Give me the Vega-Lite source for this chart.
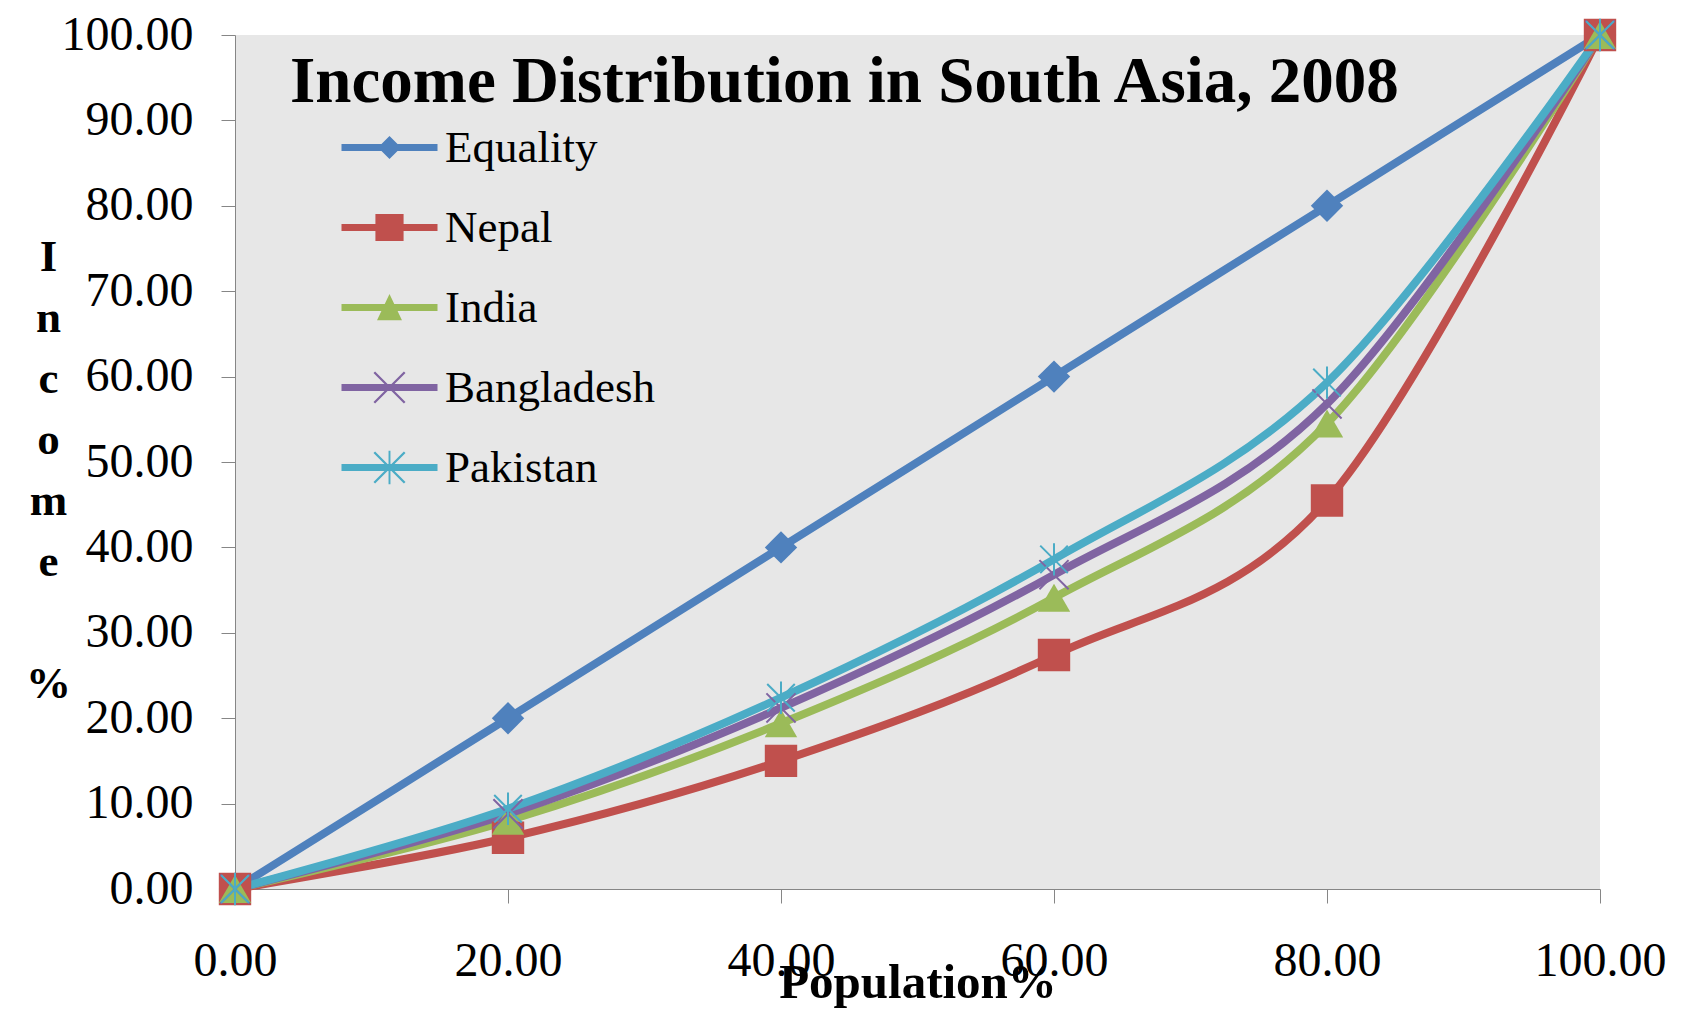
{
  "$schema": "https://vega.github.io/schema/vega-lite/v6.json",
  "width": 1365,
  "height": 854,
  "autosize": {"type": "none"},
  "padding": {"left": 235, "top": 35, "right": 95, "bottom": 125},
  "background": "white",
  "config": {
    "font": "Liberation Serif",
    "view": {"fill": "#e7e7e7", "stroke": null}
  },
  "title": {
    "text": "Income Distribution in South Asia, 2008",
    "anchor": "start",
    "frame": "group",
    "offset": -67,
    "dy": 89,
    "baseline": "alphabetic",
    "fontSize": 65,
    "fontWeight": "bold",
    "color": "black",
    "dx": 55
  },
  "data": {
    "values": [
      {"country": "Equality", "pop": 0, "income": 0},
      {"country": "Equality", "pop": 20, "income": 20},
      {"country": "Equality", "pop": 40, "income": 40},
      {"country": "Equality", "pop": 60, "income": 60},
      {"country": "Equality", "pop": 80, "income": 80},
      {"country": "Equality", "pop": 100, "income": 100},
      {"country": "Nepal", "pop": 0, "income": 0},
      {"country": "Nepal", "pop": 20, "income": 6.0},
      {"country": "Nepal", "pop": 40, "income": 15.0},
      {"country": "Nepal", "pop": 60, "income": 27.4},
      {"country": "Nepal", "pop": 80, "income": 45.5},
      {"country": "Nepal", "pop": 100, "income": 100},
      {"country": "India", "pop": 0, "income": 0},
      {"country": "India", "pop": 20, "income": 8.0},
      {"country": "India", "pop": 40, "income": 19.4},
      {"country": "India", "pop": 60, "income": 34.1},
      {"country": "India", "pop": 80, "income": 54.5},
      {"country": "India", "pop": 100, "income": 100},
      {"country": "Bangladesh", "pop": 0, "income": 0},
      {"country": "Bangladesh", "pop": 20, "income": 8.8},
      {"country": "Bangladesh", "pop": 40, "income": 21.2},
      {"country": "Bangladesh", "pop": 60, "income": 36.8},
      {"country": "Bangladesh", "pop": 80, "income": 56.8},
      {"country": "Bangladesh", "pop": 100, "income": 100},
      {"country": "Pakistan", "pop": 0, "income": 0},
      {"country": "Pakistan", "pop": 20, "income": 9.4},
      {"country": "Pakistan", "pop": 40, "income": 22.4},
      {"country": "Pakistan", "pop": 60, "income": 38.6},
      {"country": "Pakistan", "pop": 80, "income": 59.3},
      {"country": "Pakistan", "pop": 100, "income": 100}
    ]
  },
  "encoding": {
    "x": {
      "field": "pop",
      "type": "quantitative",
      "scale": {"domain": [0, 100], "nice": false},
      "axis": {
        "values": [0, 20, 40, 60, 80, 100],
        "format": ".2f",
        "grid": false,
        "tickSize": 14,
        "tickColor": "#868686",
        "domainColor": "#868686",
        "labelFontSize": 48,
        "labelColor": "black",
        "labelBaseline": "alphabetic",
        "labelPadding": 72,
        "labelFlush": false,
        "labelOverlap": false,
        "title": "Population%",
        "titleFontSize": 49,
        "titleFontWeight": "bold",
        "titleColor": "black",
        "titleBaseline": "alphabetic",
        "titleY": 108
      }
    },
    "y": {
      "field": "income",
      "type": "quantitative",
      "scale": {"domain": [0, 100], "nice": false},
      "axis": {
        "values": [0, 10, 20, 30, 40, 50, 60, 70, 80, 90, 100],
        "format": ".2f",
        "grid": false,
        "tickSize": 14,
        "tickColor": "#868686",
        "domainColor": "#868686",
        "labelFontSize": 48,
        "labelColor": "black",
        "labelPadding": 28,
        "labelFlush": false,
        "labelOverlap": false,
        "title": ["I", "n", "c", "o", "m", "e", "\u200b", "%"],
        "titleAngle": 0,
        "titleAlign": "center",
        "titleBaseline": "alphabetic",
        "titleX": -187,
        "titleY": 235,
        "titleFontSize": 45,
        "titleFontWeight": "bold",
        "titleColor": "black",
        "titleLineHeight": 61
      }
    }
  },
  "resolve": {"scale": {"color": "independent", "shape": "independent"}},
  "layer": [
    {
      "mark": {"type": "line", "interpolate": "cardinal", "strokeWidth": 8},
      "encoding": {
        "color": {
          "field": "country",
          "type": "nominal",
          "scale": {
            "domain": ["Equality", "Nepal", "India", "Bangladesh", "Pakistan"],
            "range": ["#4F81BD", "#C0504D", "#9BBB59", "#8064A2", "#4BACC6"]
          },
          "legend": null
        }
      }
    },
    {
      "transform": [{"filter": {"field": "country", "oneOf": ["Equality", "Nepal", "India"]}}],
      "mark": {"type": "point", "filled": true, "size": 1050, "opacity": 1},
      "encoding": {
        "color": {
          "field": "country",
          "type": "nominal",
          "scale": {
            "domain": ["Equality", "Nepal", "India", "Bangladesh", "Pakistan"],
            "range": ["#4F81BD", "#C0504D", "#9BBB59", "#8064A2", "#4BACC6"]
          },
          "legend": null
        },
        "shape": {
          "field": "country",
          "type": "nominal",
          "scale": {
            "domain": ["Equality", "Nepal", "India", "Bangladesh", "Pakistan"],
            "range": ["diamond", "square", "triangle-up", "M-0.9,-0.9L0.9,0.9M-0.9,0.9L0.9,-0.9", "M-0.85,-0.85L0.85,0.85M-0.85,0.85L0.85,-0.85M0,-1V1"]
          },
          "legend": null
        }
      }
    },
    {
      "transform": [{"filter": {"field": "country", "oneOf": ["Bangladesh", "Pakistan"]}}],
      "mark": {"type": "point", "filled": false, "size": 1050, "strokeWidth": 2, "opacity": 1},
      "encoding": {
        "color": {
          "field": "country",
          "type": "nominal",
          "scale": {
            "domain": ["Equality", "Nepal", "India", "Bangladesh", "Pakistan"],
            "range": ["#4F81BD", "#C0504D", "#9BBB59", "#8064A2", "#4BACC6"]
          },
          "legend": null
        },
        "shape": {
          "field": "country",
          "type": "nominal",
          "scale": {
            "domain": ["Equality", "Nepal", "India", "Bangladesh", "Pakistan"],
            "range": ["diamond", "square", "triangle-up", "M-0.9,-0.9L0.9,0.9M-0.9,0.9L0.9,-0.9", "M-0.85,-0.85L0.85,0.85M-0.85,0.85L0.85,-0.85M0,-1V1"]
          },
          "legend": null
        }
      }
    },
    {
      "mark": {"type": "point", "filled": true, "size": 1024, "opacity": 0},
      "encoding": {
        "color": {
          "field": "country",
          "type": "nominal",
          "scale": {
            "domain": ["Equality", "Nepal", "India", "Bangladesh", "Pakistan"],
            "range": ["#4F81BD", "#C0504D", "#9BBB59", "#8064A2", "#4BACC6"]
          },
          "legend": {
            "orient": "none",
            "legendX": 132,
            "legendY": 90,
            "title": null,
            "labelFontSize": 45,
            "labelColor": "black",
            "labelLimit": 400,
            "labelOffset": 33,
            "symbolSize": 1024,
            "rowPadding": 34,
            "padding": 0,
            "symbolStrokeWidth": 0,
            "symbolOpacity": 1
          }
        },
        "shape": {
          "field": "country",
          "type": "nominal",
          "scale": {
            "domain": ["Equality", "Nepal", "India", "Bangladesh", "Pakistan"],
            "range": [
              "M-3,-0.22H3V0.22H-3ZM0,-0.72L0.72,0L0,0.72L-0.72,0Z",
              "M-3,-0.22H3V0.22H-3ZM-0.88,-0.85H0.88V0.85H-0.88Z",
              "M-3,-0.22H3V0.22H-3ZM0,-0.85L0.78,0.8H-0.78Z",
              "M-3,-0.22H3V0.22H-3ZM-1,-0.9L-0.9,-1L1,0.9L0.9,1ZM1,-0.9L-0.9,1L-1,0.9L0.9,-1Z",
              "M-3,-0.22H3V0.22H-3ZM-1,-0.9L-0.9,-1L1,0.9L0.9,1ZM1,-0.9L-0.9,1L-1,0.9L0.9,-1ZM-0.06,-1.05H0.06V1.05H-0.06Z"
            ]
          },
          "legend": {
            "orient": "none",
            "legendX": 132,
            "legendY": 90,
            "title": null,
            "labelFontSize": 45,
            "labelColor": "black",
            "labelLimit": 400,
            "labelOffset": 33,
            "symbolSize": 1024,
            "rowPadding": 34,
            "padding": 0,
            "symbolStrokeWidth": 0,
            "symbolOpacity": 1
          }
        }
      }
    }
  ]
}
